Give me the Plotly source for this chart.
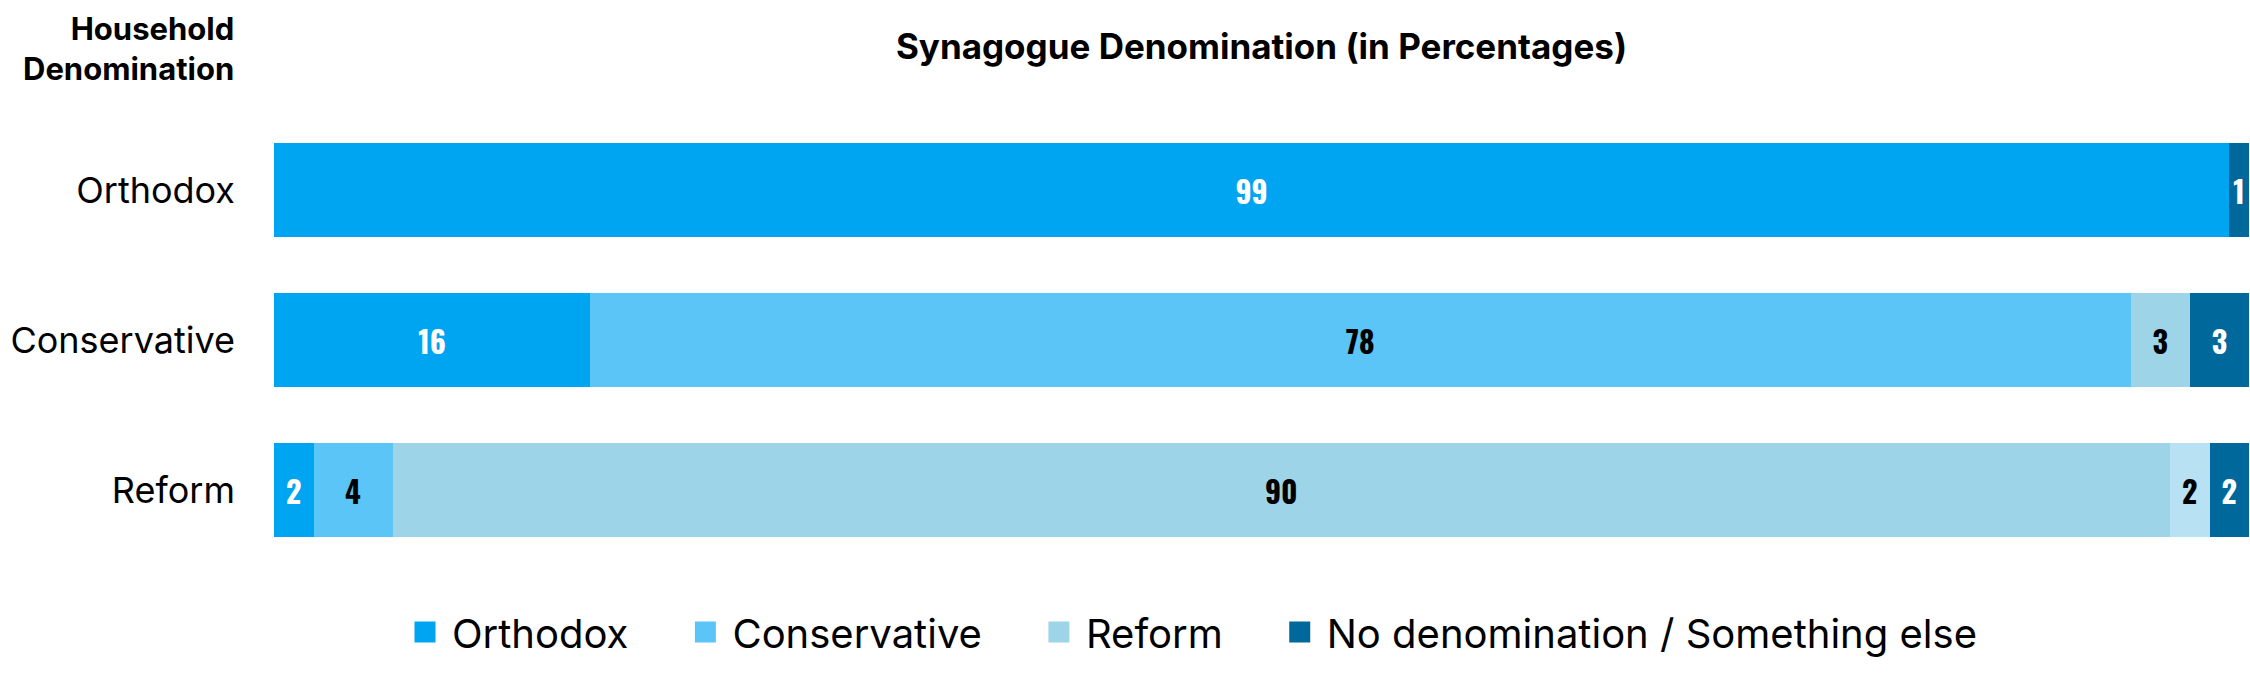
import plotly.graph_objects as go

categories = ["Orthodox", "Conservative", "Reform"]
series_names = ["Orthodox", "Conservative", "Reform", "Other", "No denomination / Something else"]
orthodox = [99, 16, 2]
conservative = [0, 78, 4]
reform = [0, 3, 90]
other = [0, 0, 2]
none_else = [1, 3, 2]

values = [orthodox, conservative, reform, other, none_else]
colors = ["#00a5f2", "#5bc5f8", "#9ed4e8", "#b9e1f4", "#00689a"]
text_colors = ["white", "black", "black", "black", "white"]
show_leg = [True, True, True, False, True]

BAR_FONT = "Oswald, 'Liberation Sans Narrow', 'DejaVu Sans Condensed', 'Roboto Condensed', sans-serif"
MAIN_FONT = "Inter, 'Noto Sans', sans-serif"
PAD = "\u00a0" * 4

fig = go.Figure()
for name, vals, col, tcol in zip(series_names, values, colors, text_colors):
    fig.add_trace(go.Bar(
        y=categories, x=vals, name=name, orientation="h",
        marker=dict(color=col, line=dict(width=0)),
        text=[str(v) if v else "" for v in vals],
        textposition="inside", insidetextanchor="middle", textangle=0,
        textfont=dict(family=BAR_FONT, size=30, color=tcol, weight="bold"),
        showlegend=False, hoverinfo="skip",
    ))

# legend entries (square swatches)
leg_items = [(n, c) for n, c, s in zip(series_names, colors, show_leg) if s]
for i, (name, col) in enumerate(leg_items):
    label = name + (PAD if i < len(leg_items) - 1 else "")
    fig.add_trace(go.Scatter(
        x=[None], y=[None], mode="markers", name=label,
        marker=dict(symbol="square", size=27, color=col, line=dict(width=8, color=col)),
        showlegend=True, hoverinfo="skip",
    ))

fig.update_layout(
    barmode="stack",
    bargap=0.373,
    width=2250, height=687,
    margin=dict(l=274, r=1, t=115, b=122),
    plot_bgcolor="white", paper_bgcolor="white",
    uniformtext=dict(minsize=30, mode="show"),
    font=dict(family=MAIN_FONT, color="black"),
    title=dict(
        text="<b>Synagogue Denomination (in Percentages)</b>",
        x=0.5, xref="paper", xanchor="center",
        y=1 - 47 / 687, yref="container", yanchor="middle",
        font=dict(family=MAIN_FONT, size=35, color="black"),
    ),
    xaxis=dict(range=[0, 100], visible=False, fixedrange=True),
    yaxis=dict(
        categoryorder="array", categoryarray=categories, autorange="reversed",
        showgrid=False, zeroline=False, showline=False, ticks="",
        ticklabelstandoff=38,
        tickfont=dict(family=MAIN_FONT, size=36, color="black"),
    ),
    legend=dict(
        orientation="h", x=(398 - 274) / 1975, xanchor="left", xref="paper",
        y=-(632 - 565) / 450, yanchor="middle",
        font=dict(family=MAIN_FONT, size=40, color="black"),
        traceorder="normal", itemwidth=44,
    ),
    annotations=[dict(
        text="<b>Household<br>Denomination</b>",
        x=0, xref="paper", xanchor="right", xshift=-38, align="right",
        y=1 + (115 - 49) / 450, yref="paper", yanchor="middle",
        showarrow=False,
        font=dict(family=MAIN_FONT, size=31, color="black"),
    )],
)

fig.write_html("out.html")
